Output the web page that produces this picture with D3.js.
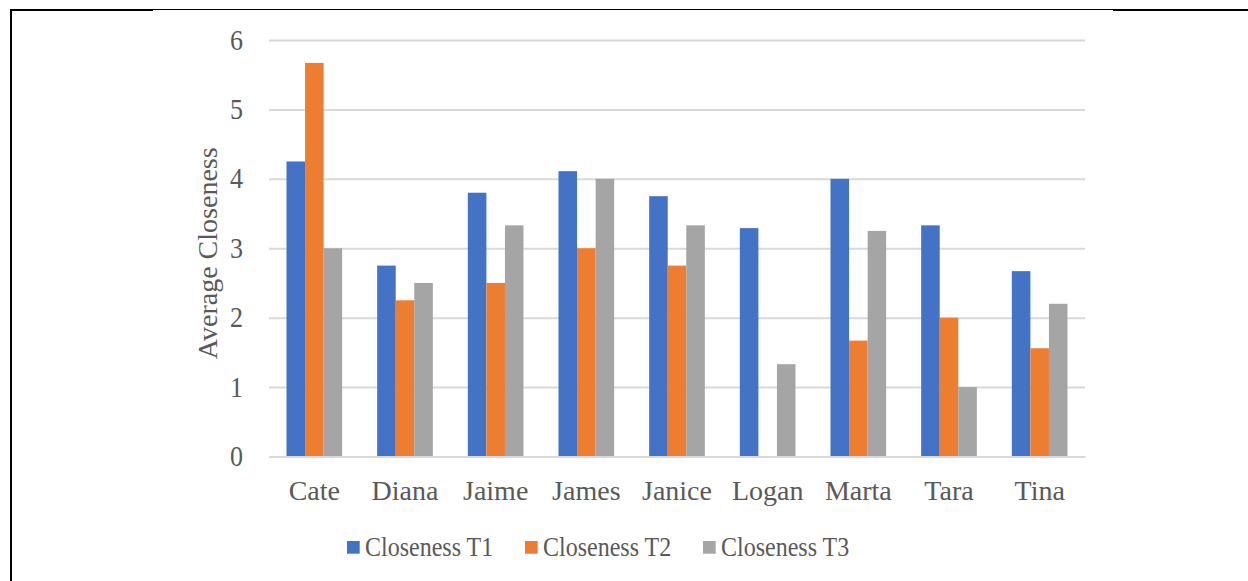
<!DOCTYPE html>
<html>
<head>
<meta charset="utf-8">
<script src="https://cdn.jsdelivr.net/npm/d3@7"></script>
<style>
  html, body { margin: 0; padding: 0; background: #fff; }
  svg { display: block; }
  svg text { font-family: "Liberation Serif", "DejaVu Serif", serif !important; fill: #595959; }
</style>
</head>
<body>
<svg id="chart" width="1248" height="581"></svg>
<script>
// Average closeness per person at three time points
const categories = ["Cate", "Diana", "Jaime", "James", "Janice", "Logan", "Marta", "Tara", "Tina"];
const seriesNames = ["Closeness T1", "Closeness T2", "Closeness T3"];
const closenessT1 = [4.25, 2.75, 3.8, 4.11, 3.75, 3.29, 4.0, 3.33, 2.67];
const closenessT2 = [5.67, 2.25, 2.5, 3.0, 2.75, 0, 1.67, 2.0, 1.56];
const closenessT3 = [3.0, 2.5, 3.33, 4.0, 3.33, 1.33, 3.25, 1.0, 2.2];
const yTicks = [0, 1, 2, 3, 4, 5, 6];
const colors = ["#4472C4", "#ED7D31", "#A5A5A5"];

const seriesValues = [closenessT1, closenessT2, closenessT3];

const svg = d3.select("#chart");

// page frame lines
const frame = svg.append("g");
frame.append("line").attr("x1", 11).attr("x2", 11).attr("y1", 9).attr("y2", 581)
  .attr("stroke", "#000").attr("stroke-width", 2);
frame.append("line").attr("x1", 10).attr("x2", 153).attr("y1", 10).attr("y2", 10)
  .attr("stroke", "#000").attr("stroke-width", 2);
frame.append("line").attr("x1", 153).attr("x2", 1113).attr("y1", 9.5).attr("y2", 9.5)
  .attr("stroke", "#000").attr("stroke-width", 1);
frame.append("line").attr("x1", 1113).attr("x2", 1248).attr("y1", 10).attr("y2", 10)
  .attr("stroke", "#000").attr("stroke-width", 2);

const plot = { left: 269, right: 1085, top: 40, bottom: 456.5 };

const x = d3.scaleBand().domain(categories).range([plot.left, plot.right]).padding(0);
const gap = x.bandwidth() * 0.193;
const xs = d3.scaleBand().domain(d3.range(seriesNames.length))
  .range([gap, x.bandwidth() - gap]).padding(0);
const y = d3.scaleLinear().domain([0, 6]).range([plot.bottom, plot.top]);

// gridlines and value labels
const yAxis = d3.axisLeft(y).tickValues(yTicks).tickSize(-(plot.right - plot.left))
  .tickPadding(26).tickFormat(d3.format("d"));
const gy = svg.append("g").attr("transform", `translate(${plot.left},0)`).call(yAxis);
gy.attr("font-family", null);
gy.select(".domain").remove();
gy.selectAll(".tick line").attr("stroke", "#D9D9D9").attr("stroke-width", 2);
gy.selectAll(".tick text").attr("font-size", 26).attr("fill", "#595959")
  .attr("transform", "scale(1,1.1)");

// bars
const groups = svg.append("g").selectAll("g")
  .data(seriesValues).join("g")
  .attr("fill", (d, i) => colors[i]);
groups.each(function(vals, si) {
  d3.select(this).selectAll("rect")
    .data(vals.map((v, ci) => ({ v, c: categories[ci] })))
    .join("rect")
    .attr("x", d => x(d.c) + xs(si))
    .attr("width", xs.bandwidth())
    .attr("y", d => y(d.v))
    .attr("height", d => y(0) - y(d.v));
});

// category axis baseline + labels
const xAxis = d3.axisBottom(x).tickSize(0).tickPadding(24);
const gx = svg.append("g").attr("transform", `translate(0,${plot.bottom})`).call(xAxis);
gx.attr("font-family", null);
gx.select(".domain").attr("stroke", "#D9D9D9").attr("stroke-width", 2);
gx.selectAll(".tick text").attr("font-size", 28).attr("fill", "#595959");

// y-axis title
svg.append("text")
  .attr("transform", `translate(217,${(plot.top + plot.bottom) / 2 + 5}) rotate(-90)`)
  .attr("text-anchor", "middle")
  .attr("font-size", 28)
  .text("Average Closeness");

// legend
const legendX = [347, 525, 703];
const legend = svg.append("g").selectAll("g").data(seriesNames).join("g")
  .attr("transform", (d, i) => `translate(${legendX[i]},541)`);
legend.append("rect").attr("width", 12.7).attr("height", 12.7)
  .attr("fill", (d, i) => colors[i]);
legend.append("text").attr("transform", "translate(18,15) scale(1,1.15)")
  .attr("font-size", 24).text(d => d);
</script>
</body>
</html>
